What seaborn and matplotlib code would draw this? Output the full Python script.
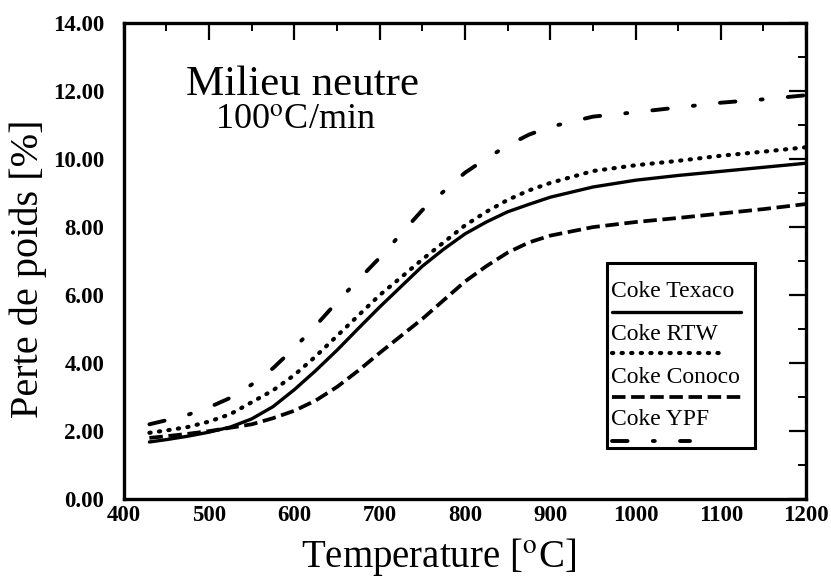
import matplotlib
matplotlib.use("Agg")
import matplotlib.pyplot as plt
import seaborn as sns
import pandas as pd
from matplotlib.lines import Line2D
from matplotlib.patches import Rectangle
from matplotlib.ticker import MultipleLocator, FormatStrFormatter

temperature = [430, 450, 475, 500, 525, 550, 575, 600, 625, 650, 675, 700, 725, 750, 775, 800,
               825, 850, 875, 900, 950, 1000, 1050, 1100, 1150, 1200]
texaco = [1.68, 1.75, 1.85, 1.97, 2.12, 2.36, 2.72, 3.22, 3.78, 4.38, 5.02, 5.65, 6.25, 6.85, 7.35, 7.80,
          8.15, 8.45, 8.67, 8.88, 9.18, 9.38, 9.52, 9.64, 9.76, 9.88]
rtw = [1.95, 2.02, 2.12, 2.28, 2.50, 2.85, 3.20, 3.65, 4.20, 4.80, 5.40, 6.00, 6.52, 7.05, 7.55, 8.05,
       8.45, 8.80, 9.08, 9.30, 9.65, 9.82, 9.95, 10.10, 10.22, 10.35]
conoco = [1.80, 1.85, 1.92, 2.00, 2.10, 2.20, 2.38, 2.60, 2.90, 3.30, 3.78, 4.30, 4.80, 5.30, 5.85, 6.40,
          6.85, 7.25, 7.55, 7.75, 8.00, 8.15, 8.27, 8.40, 8.53, 8.68]
ypf = [2.20, 2.32, 2.48, 2.70, 2.98, 3.37, 3.85, 4.45, 5.10, 5.80, 6.45, 7.10, 7.80, 8.50, 9.05, 9.60,
       10.02, 10.40, 10.72, 10.95, 11.25, 11.38, 11.52, 11.66, 11.76, 11.88]
series_names = ["Coke Texaco", "Coke RTW", "Coke Conoco", "Coke YPF"]
x_ticks = [400, 500, 600, 700, 800, 900, 1000, 1100, 1200]

sns.set_theme(style="white")
plt.rcParams["font.family"] = ["Liberation Serif", "DejaVu Serif"]
plt.rcParams["mathtext.fontset"] = "stix"
for k in ["text.color", "axes.labelcolor", "xtick.color", "ytick.color"]:
    plt.rcParams[k] = "black"

fig = plt.figure(figsize=(8.31, 5.79), dpi=100)
ax = fig.add_axes([0.149, 0.138, 0.821, 0.822])

styles = {
    "Coke Texaco": dict(lw=2.4, ls="-"),
    "Coke RTW": dict(lw=3.0, dashes=(0.3, 2.0), cap="round"),
    "Coke Conoco": dict(lw=2.7, dashes=(3.6, 1.5), cap="butt"),
    "Coke YPF": dict(lw=2.8, dashes=(4.0, 6.5, 0.5, 6.5), cap="round"),
}
values = [texaco, rtw, conoco, ypf]
for name, vals in zip(series_names, values):
    df = pd.DataFrame({"T": temperature, "v": vals})
    st = styles[name]
    sns.lineplot(data=df, x="T", y="v", ax=ax, color="black", lw=st["lw"], estimator=None)
    line = ax.lines[-1]
    if "dashes" in st:
        line.set_dashes(st["dashes"])
        line.set_dash_capstyle(st["cap"])
    line.set_solid_joinstyle("round")

ax.set_xlim(400, 1200)
ax.set_ylim(0, 14)
ax.set_xticks(x_ticks)
ax.xaxis.set_minor_locator(MultipleLocator(50))
ax.yaxis.set_major_locator(MultipleLocator(2))
ax.yaxis.set_minor_locator(MultipleLocator(1))
ax.yaxis.set_major_formatter(FormatStrFormatter("%.2f"))
ax.tick_params(which="both", direction="in", top=True, right=True, color="black")
ax.tick_params(which="major", length=12, width=1.6, labelsize=16.5)
ax.tick_params(axis="y", which="major", pad=14)
ax.tick_params(axis="x", which="major", pad=4)
ax.tick_params(which="minor", length=6, width=1.4)
for lab in ax.get_xticklabels() + ax.get_yticklabels():
    lab.set_fontweight("bold")
for sp in ax.spines.values():
    sp.set_linewidth(2.4)
    sp.set_color("black")

ax.set_xlabel("Temperature [$^{\\mathrm{o}}$C]", fontsize=28)
ax.set_ylabel("Perte de poids [%]", fontsize=29)
ax.xaxis.set_label_coords(0.462, -0.078)
ax.yaxis.set_label_coords(-0.112, 0.485)

ax.text(0.262, 0.87, "Milieu neutre", transform=ax.transAxes, fontsize=31, ha="center", va="center")
ax.text(0.252, 0.795, "100$^{\\mathrm{o}}$C/min", transform=ax.transAxes, fontsize=26, ha="center", va="center")

# legend box (text above line sample)
ax.add_patch(Rectangle((0.708, 0.107), 0.217, 0.389, transform=ax.transAxes,
                       fill=False, lw=2.2, ec="black", zorder=5))
ty = [0.437, 0.346, 0.256, 0.168]
ly = [0.394, 0.306, 0.214, 0.122]
lx_end = [0.904, 0.88, 0.904, 0.83]
for name, t, l, xe in zip(series_names, ty, ly, lx_end):
    ax.text(0.714, t, name, transform=ax.transAxes, fontsize=17, ha="left", va="center", zorder=6)
    st = styles[name]
    ln = Line2D([0.716, xe], [l, l], transform=ax.transAxes, color="black", lw=st["lw"], zorder=6)
    if "dashes" in st:
        ln.set_dashes(st["dashes"])
        ln.set_dash_capstyle(st["cap"])
    ax.add_line(ln)

fig.savefig("out.png", dpi=100)
